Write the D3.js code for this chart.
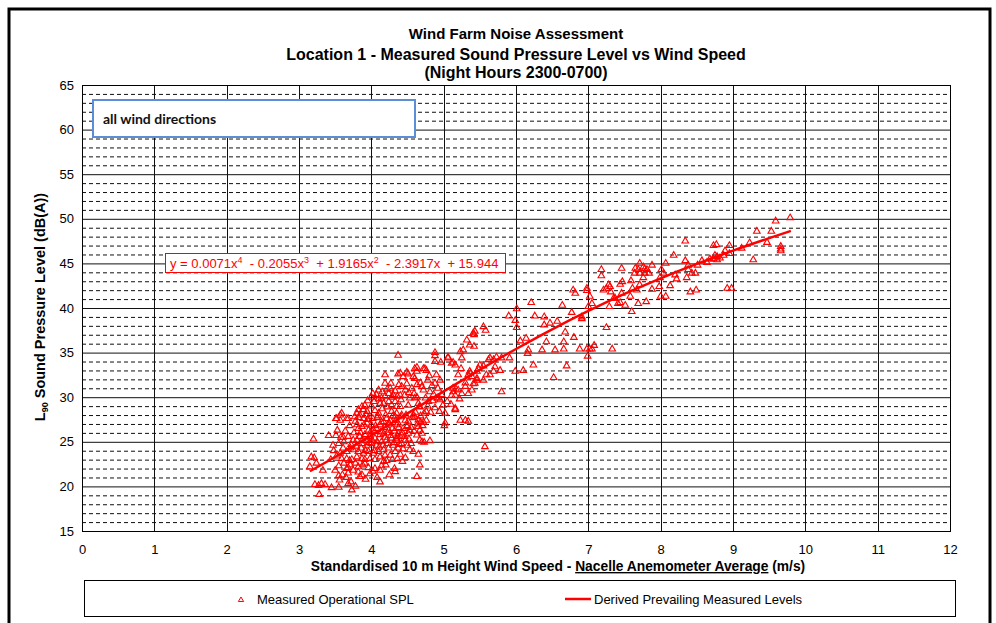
<!DOCTYPE html>
<html><head><meta charset="utf-8">
<script src="https://cdn.jsdelivr.net/npm/d3@7/dist/d3.min.js"></script>
<style>
body{margin:0;background:#fff;}
svg text{font-family:"Liberation Sans",Arial,sans-serif;}
</style>
</head><body>
<svg id="chart" width="996" height="623"></svg>
<script>
const titleLines = ["Wind Farm Noise Assessment","Location 1 - Measured Sound Pressure Level vs Wind Speed","(Night Hours 2300-0700)"];
const xTickValues = [0,1,2,3,4,5,6,7,8,9,10,11,12];
const yTickValues = [15,20,25,30,35,40,45,50,55,60,65];
const seriesNames = ["Measured Operational SPL","Derived Prevailing Measured Levels"];
const boxLabel = "all wind directions";
const trendCoefficients = ["0.0071","0.2055","1.9165","2.3917","15.944"];

// trend line (polynomial trendline)
const trendWind = [3.15,3.5,4,4.5,5,5.5,6,6.5,7,7.5,8,8.5,9,9.5,9.8];
const trendSPL  = [21.70,23.30,25.71,28.18,30.65,33.07,35.40,37.61,39.67,41.58,43.33,44.94,46.43,47.83,48.64];

// measured points [wind speed m/s, L90 dB(A)]
const measured = [
[3.15,22.2],[3.17,23.3],[3.21,23.2],[3.20,25.3],[3.24,22.6],[3.33,21.8],[3.22,20.2],[3.27,20.1],[3.31,20.3],[3.36,20.2],[3.28,19.1],[3.41,25.7],[3.51,25.7],[3.47,24.6],[3.45,19.85],[3.55,21.2],[3.56,20.7],[3.55,19.9],[3.51,27.6],[3.57,27.4],[3.57,23.7],[3.59,23.1],[3.59,28.2],[3.57,28.0],[3.52,27.6],[3.52,23.4],[3.55,24.8],[3.58,25.5],[3.53,26.3],[3.48,24.0],[3.44,23.0],[3.50,21.8],[3.55,22.3],
[3.61,25.5],[3.61,24.3],[3.66,23.9],[3.66,23.1],[3.66,22.0],[3.68,21.5],[3.68,22.1],[3.65,21.0],[3.68,20.3],[3.73,19.6],[3.60,21.3],[3.72,20.5],[3.78,20.0],[3.62,22.6],[3.70,22.9],[3.78,22.6],[3.71,22.4],[3.73,23.0],[3.75,21.8],[3.82,21.6],[3.84,21.1],[3.87,21.3],[3.82,22.2],[3.88,22.4],[3.91,22.6],[3.92,20.8],[3.96,22.1],[3.98,21.4],[3.68,27.6],[3.71,24.3],[3.75,24.1],[3.75,25.2],[3.80,25.2],[3.80,23.3],[3.80,26.9],[3.82,26.5],[3.82,23.9],[3.84,25.6],[3.84,28.0],[3.87,26.7],[3.87,24.8],[3.87,23.1],[3.89,27.6],[3.89,23.7],[3.91,25.8],[3.91,23.0],[3.94,27.1],[3.94,24.6],[3.96,26.3],[3.96,23.9],[3.98,25.6],[3.98,23.1],[3.62,25.0],[3.64,26.2],[3.68,25.6],[3.70,26.8],[3.72,24.7],[3.76,26.0],[3.78,27.3],[3.79,24.5],[3.83,27.7],[3.85,26.0],[3.86,24.3],[3.88,25.3],[3.90,26.9],[3.92,24.0],[3.93,25.1],[3.95,27.5],[3.97,24.9],[3.99,26.1],[3.77,27.8],[3.80,28.2],[3.82,28.6],[3.89,28.6],[3.87,28.95],[3.91,29.1],[3.94,28.4],[3.93,28.0],[3.97,27.8],[3.95,29.6],[3.66,27.6],
[4.00,26.9],[4.03,26.3],[4.07,26.5],[4.12,26.9],[4.17,27.25],[4.21,27.6],[4.26,27.4],[4.33,27.8],[4.35,26.9],[4.24,26.3],[4.17,25.9],[4.12,25.8],[4.05,25.4],[4.00,24.8],[4.07,24.6],[4.14,25.0],[4.21,25.2],[4.28,25.4],[4.35,25.2],[4.30,24.6],[4.24,24.3],[4.17,24.1],[4.10,23.9],[4.03,23.7],[4.05,23.0],[4.12,23.3],[4.19,23.5],[4.26,23.5],[4.33,23.9],[4.37,24.3],[4.17,22.8],[4.12,21.8],[4.20,22.4],[4.32,22.0],[4.02,21.7],[4.08,21.0],[4.12,20.5],[4.25,21.3],[4.33,21.65],[4.05,22.0],[4.14,22.3],[4.21,22.9],[4.29,23.0],[4.36,23.1],[4.01,25.2],[4.02,27.6],[4.04,24.0],[4.06,26.8],[4.08,25.0],[4.09,27.9],[4.11,24.4],[4.13,26.1],[4.14,27.2],[4.16,24.6],[4.18,26.6],[4.19,25.5],[4.22,26.0],[4.23,24.8],[4.25,27.0],[4.27,25.7],[4.29,26.5],[4.31,24.9],[4.32,26.2],[4.34,27.4],[4.36,25.6],[4.38,26.6],[4.39,24.7],[4.05,28.5],[4.10,28.2],[4.15,28.7],[4.20,28.0],[4.28,28.4],[4.00,29.0],[4.30,27.9],[4.22,28.9],[4.35,28.2],[4.08,27.7],[4.17,29.3],[4.12,29.3],[4.24,29.5],[4.28,29.1],[4.33,29.5],[4.35,28.95],[4.14,29.9],[4.19,30.1],[4.24,30.4],[4.30,30.3],[4.36,30.1],[4.02,30.4],[4.10,30.8],[4.00,30.0],[4.04,29.5],[4.07,30.3],[4.10,29.8],[4.15,30.6],[4.22,30.9],[4.26,31.0],[4.29,30.0],[4.33,30.7],[4.38,31.4],[4.19,32.5],[4.19,31.55],[4.27,31.55],[4.37,34.7],[4.37,27.1],[4.35,25.4],[4.37,25.95],[4.37,32.6],
[4.40,32.7],[4.44,32.3],[4.49,32.8],[4.51,32.6],[4.58,32.3],[4.60,33.2],[4.63,32.9],[4.72,33.2],[4.74,33.2],[4.76,33.0],[4.60,32.1],[4.63,31.4],[4.70,31.2],[4.42,31.2],[4.47,30.8],[4.40,30.2],[4.53,29.9],[4.51,29.1],[4.60,29.9],[4.65,29.3],[4.67,28.95],[4.76,28.4],[4.58,28.0],[4.40,28.95],[4.42,28.0],[4.79,29.5],[4.81,30.6],[4.92,31.0],[4.95,31.9],[4.88,31.55],[4.93,29.9],[4.95,29.7],[4.88,35.0],[4.88,34.65],[4.88,34.0],[4.96,33.9],[4.42,24.8],[4.47,25.2],[4.51,25.95],[4.53,26.3],[4.42,25.75],[4.44,26.5],[4.49,26.7],[4.51,27.3],[4.47,27.4],[4.60,27.8],[4.65,27.45],[4.68,27.2],[4.72,27.2],[4.65,26.7],[4.67,26.3],[4.63,25.75],[4.70,25.95],[4.81,25.1],[4.73,24.95],[4.70,25.0],[4.67,25.2],[4.53,24.1],[4.65,23.6],[4.67,22.4],[4.63,21.1],[4.40,23.6],[4.44,24.2],[4.47,23.2],[4.50,24.6],[4.55,24.8],[4.58,23.9],[4.43,22.8],[4.41,27.8],[4.43,26.0],[4.46,25.6],[4.48,28.0],[4.50,26.8],[4.52,25.3],[4.55,26.6],[4.57,27.7],[4.59,26.2],[4.61,28.3],[4.64,27.0],[4.66,28.9],[4.68,27.9],[4.71,26.8],[4.73,28.2],[4.76,27.4],[4.78,29.0],[4.82,28.3],[4.85,29.6],[4.88,28.8],[4.91,29.9],[4.94,28.4],[4.97,30.3],[4.99,29.1],[4.41,29.7],[4.46,30.2],[4.49,31.5],[4.52,30.5],[4.56,31.0],[4.59,30.4],[4.63,30.0],[4.68,31.6],[4.72,30.8],[4.75,29.9],[4.78,31.9],[4.84,31.3],[4.86,30.3],[4.63,33.35],[4.90,32.5],[4.80,32.4],
[5.06,34.4],[5.13,33.9],[5.25,34.4],[5.06,34.5],[5.11,33.8],[5.16,33.6],[5.24,33.2],[5.20,32.5],[5.30,31.6],[5.41,31.5],[5.46,32.1],[5.48,33.2],[5.50,33.6],[5.37,32.7],[5.34,32.5],[5.13,31.0],[5.17,30.9],[5.25,30.4],[5.11,30.2],[5.16,28.6],[5.23,27.4],[5.30,27.4],[5.34,27.3],[5.02,27.1],[5.01,26.8],[5.32,36.4],[5.42,37.0],[5.27,35.3],[5.23,35.1],[5.36,35.85],[5.42,35.7],[5.43,37.4],[5.41,37.2],[5.46,32.9],[5.43,31.55],[5.46,31.9],[5.39,32.3],[5.36,32.9],[5.13,30.6],[5.16,30.2],[5.20,30.8],[5.30,31.2],[5.39,30.8],[5.34,30.4],[5.16,28.75],[5.02,28.2],[5.05,29.5],[5.10,29.2],[5.22,29.8],
[5.55,37.9],[5.58,37.5],[5.55,33.5],[5.64,34.4],[5.69,34.2],[5.59,32.5],[5.55,31.9],[5.64,32.5],[5.69,32.9],[5.71,33.4],[5.62,34.2],[5.73,34.5],[5.80,34.4],[5.91,34.4],[5.78,33.0],[5.80,30.6],[5.57,24.45],[5.99,32.9],[5.90,39.1],[5.99,38.6],
[6.01,39.9],[6.01,37.8],[6.06,36.3],[6.14,36.6],[6.17,35.3],[6.16,34.9],[6.10,33.0],[6.24,33.6],[6.21,40.6],[6.26,39.1],[6.39,38.1],[6.39,39.0],[6.47,38.3],[6.57,38.5],[6.42,36.2],[6.36,35.3],[6.54,35.3],[6.66,35.4],[6.66,36.2],[6.80,36.7],[6.68,37.3],[6.52,32.2],[6.70,33.5],[6.64,40.3],[6.77,39.5],[6.91,38.8],[6.88,35.4],[6.98,35.4],[6.99,34.6],[6.79,42.0],[6.82,41.65],[6.98,42.2],[6.98,41.95],[6.91,39.0],
[7.02,41.3],[7.00,40.15],[7.05,40.5],[7.05,35.4],[7.08,35.8],[7.02,35.4],[7.18,44.3],[7.18,43.6],[7.28,42.6],[7.30,42.4],[7.25,42.2],[7.21,42.0],[7.31,41.8],[7.44,42.65],[7.35,41.1],[7.37,41.1],[7.29,40.15],[7.41,40.5],[7.44,40.6],[7.51,40.3],[7.25,37.8],[7.33,35.4],[7.46,44.45],[7.47,42.95],[7.46,41.65],[7.58,41.3],[7.59,43.05],[7.61,42.2],[7.67,42.0],[7.71,42.6],[7.60,39.6],[7.69,40.5],[7.80,40.7],[7.71,45.0],[7.65,44.45],[7.76,44.6],[7.81,44.3],[7.88,44.8],[7.71,43.9],[7.78,43.9],[7.84,43.9],[7.64,43.9],[7.69,44.3],[7.76,43.4],[7.78,44.4],[7.88,42.1],[7.99,43.4],[7.98,42.4],
[8.01,44.3],[8.04,43.9],[8.07,45.0],[8.00,41.3],[8.07,41.3],[8.13,42.5],[8.18,45.9],[8.20,43.7],[8.22,43.25],[8.34,47.5],[8.34,45.3],[8.38,44.8],[8.38,44.3],[8.36,43.4],[8.41,41.8],[8.49,42.0],[8.43,43.9],[8.48,43.9],[8.51,44.8],[8.57,45.3],[8.64,45.1],[8.68,45.5],[8.73,45.5],[8.78,45.4],[8.78,45.75],[8.82,45.6],[8.75,45.9],[8.87,45.9],[8.95,46.1],[8.89,46.4],[8.95,47.0],[8.73,47.0],[8.77,47.1],[8.92,42.2],[8.98,42.2],[9.12,46.7],[9.23,47.3],[9.28,45.4],[9.33,48.6],[9.53,48.6],[9.47,47.35],[9.66,46.9],[9.66,46.6],[9.66,46.4],[9.59,49.75],[9.79,50.1]
];

const svg = d3.select("#chart");
const red = "#ff0000";
const x = d3.scaleLinear().domain([0,12]).range([82,950]);
const y = d3.scaleLinear().domain([15,65]).range([531,85]);

// outer frame
svg.append("rect").attr("x",9).attr("y",9).attr("width",981).attr("height",700)
  .attr("fill","none").attr("stroke","#000").attr("stroke-width",3);

// titles
const titleSizes = [15,16,16];
const titleY = [39,60,78];
svg.selectAll("text.title").data(titleLines).join("text").attr("class","title")
  .attr("x",516).attr("y",(d,i)=>titleY[i]).attr("text-anchor","middle")
  .attr("font-size",(d,i)=>titleSizes[i]+"px").attr("font-weight","bold").text(d=>d);

// grid
const g = svg.append("g");
const minorY = d3.range(16,65).filter(v=>v%5!==0);
g.selectAll("line.minor").data(minorY).join("line")
  .attr("x1",x(0)).attr("x2",x(12)).attr("y1",d=>y(d)+0.5).attr("y2",d=>y(d)+0.5)
  .attr("stroke","#111").attr("stroke-width",1).attr("stroke-dasharray","4,3");
g.selectAll("line.majorY").data(yTickValues.slice(1,-1)).join("line")
  .attr("x1",x(0)).attr("x2",x(12)).attr("y1",d=>y(d)+0.5).attr("y2",d=>y(d)+0.5)
  .attr("stroke","#111").attr("stroke-width",1);
g.selectAll("line.majorX").data(xTickValues.slice(1,-1)).join("line")
  .attr("x1",d=>Math.round(x(d))+0.5).attr("x2",d=>Math.round(x(d))+0.5).attr("y1",y(65)).attr("y2",y(15))
  .attr("stroke","#111").attr("stroke-width",1);
svg.append("rect").attr("x",x(0)+0.5).attr("y",y(65)+0.5).attr("width",x(12)-x(0)).attr("height",y(15)-y(65))
  .attr("fill","none").attr("stroke","#000").attr("stroke-width",1);

// axes
const xAxis = svg.append("g").attr("transform",`translate(0,${y(15)})`)
  .call(d3.axisBottom(x).tickValues(xTickValues).tickFormat(d3.format("d")).tickSize(0).tickPadding(14));
const yAxis = svg.append("g").attr("transform",`translate(${x(0)},0)`)
  .call(d3.axisLeft(y).tickValues(yTickValues).tickFormat(d3.format("d")).tickSize(0).tickPadding(8));
[xAxis,yAxis].forEach(a=>{a.select(".domain").remove();
  a.selectAll("text").attr("font-size","13px").attr("font-family","Liberation Sans, Arial, sans-serif").attr("fill","#000");});

// axis titles
const xt = svg.append("text").attr("x",558).attr("y",571).attr("text-anchor","middle")
  .attr("font-size","13.8px").attr("font-weight","bold");
xt.append("tspan").text("Standardised 10 m Height Wind Speed - ");
xt.append("tspan").style("text-decoration","underline").text("Nacelle Anemometer Average");
xt.append("tspan").text(" (m/s)");

const yt = svg.append("text").attr("transform","translate(45,307) rotate(-90)").attr("text-anchor","middle")
  .attr("font-size","14.5px").attr("font-weight","bold");
yt.append("tspan").text("L");
yt.append("tspan").attr("font-size","9px").attr("dy",3).text("90");
yt.append("tspan").attr("dy",-3).text(" Sound Pressure Level (dB(A))");

// text box
svg.append("rect").attr("x",93).attr("y",100).attr("width",322).attr("height",37)
  .attr("fill","#fff").attr("stroke","#5b8ed6").attr("stroke-width",2);
svg.append("text").attr("x",103).attr("y",124).attr("font-size","14px").attr("font-weight","bold")
  .style("font-family","Lato, 'Open Sans', sans-serif").attr("fill","#111").text(boxLabel);

// scatter
svg.append("g").selectAll("path").data(measured).join("path")
  .attr("transform",d=>`translate(${x(d[0])},${y(d[1])})`)
  .attr("d",d3.symbol(d3.symbolTriangle,19)())
  .attr("fill","none").attr("stroke",red).attr("stroke-width",1.1);

// trend line
const trend = trendWind.map((w,i)=>[w,trendSPL[i]]);
svg.append("path").datum(trend)
  .attr("d",d3.line().x(d=>x(d[0])).y(d=>y(d[1])).curve(d3.curveMonotoneX))
  .attr("fill","none").attr("stroke",red).attr("stroke-width",2.5);

// equation box
svg.append("rect").attr("x",165.5).attr("y",253.5).attr("width",340).attr("height",19)
  .attr("fill","#fff").attr("stroke",red).attr("stroke-width",1);
const eq = svg.append("text").attr("x",170).attr("y",268).attr("font-size","13px").attr("fill",red)
  .style("white-space","pre");
const c = trendCoefficients;
const parts = [["y = "+c[0]+"x",null],["4","sup"],["  - "+c[1]+"x",null],["3","sup"],["  + "+c[2]+"x",null],["2","sup"],["  - "+c[3]+"x  + "+c[4],null]];
parts.forEach(p=>{
  if(p[1]==="sup"){ eq.append("tspan").attr("font-size","9px").attr("dy",-5).text(p[0]); }
  else { eq.append("tspan").attr("dy", p[0].startsWith("y")?0:5).text(p[0]); }
});

// legend
svg.append("rect").attr("x",84.5).attr("y",580.5).attr("width",871).attr("height",36)
  .attr("fill","#fff").attr("stroke","#000").attr("stroke-width",1);
svg.append("path").attr("transform","translate(241,600)").attr("d",d3.symbol(d3.symbolTriangle,12)())
  .attr("fill","none").attr("stroke",red).attr("stroke-width",1);
svg.append("text").attr("x",257).attr("y",604).attr("font-size","13px").text(seriesNames[0]);
svg.append("line").attr("x1",565).attr("x2",591).attr("y1",599).attr("y2",599).attr("stroke",red).attr("stroke-width",2.5);
svg.append("text").attr("x",594).attr("y",604).attr("font-size","13px").text(seriesNames[1]);
</script>
</body></html>
